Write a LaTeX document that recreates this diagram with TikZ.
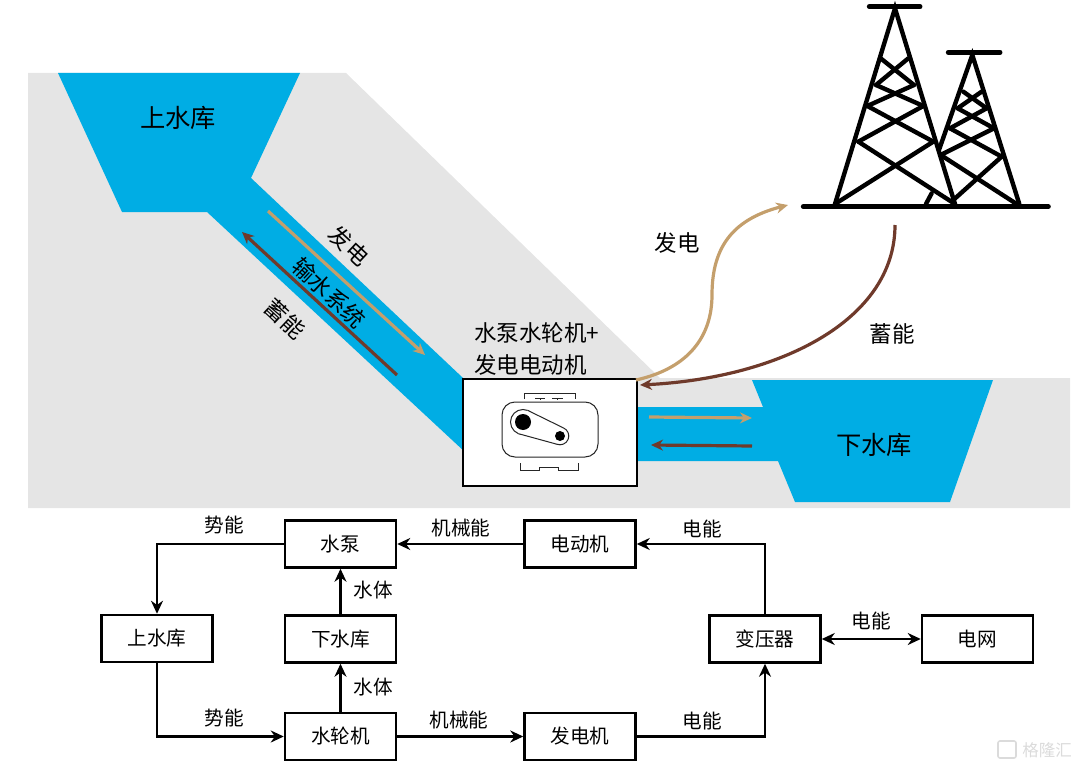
\documentclass[tikz,border=0pt]{standalone}
\usepackage{fontspec}
\setmainfont{Noto Sans CJK SC}
\usetikzlibrary{arrows.meta,positioning,calc}
\definecolor{waterblue}{HTML}{00ADE4}
\definecolor{hillgray}{HTML}{E5E5E5}
\definecolor{gentan}{HTML}{C49F6C}
\definecolor{storebrown}{HTML}{6F3A2B}
\tikzset{
    >={Stealth[]},
    flowbox/.style={draw,line width=2.5pt,minimum width=111pt,minimum height=47pt,inner sep=0pt,font=\fontsize{19.6}{20}\selectfont},
    flowline/.style={draw,line width=2.5pt,-{Stealth[length=13pt,width=12pt]}},
    flowlabel/.style={inner sep=0pt,font=\fontsize{19.6}{20}\selectfont},
    biglabel/.style={inner sep=0pt,font=\fontsize{22.5}{23}\selectfont},
    resname/.style={inner sep=0pt,font=\fontsize{25.3}{26}\selectfont},
    genline/.style={draw=gentan,line width=3.2pt,-{Stealth[length=12pt,width=11pt]}},
    storeline/.style={draw=storebrown,line width=3.2pt,-{Stealth[length=12pt,width=11pt]}},
    towerline/.style={line width=4.4pt,line cap=round},
    towerbar/.style={line width=5pt,line cap=round},
    iconline/.style={line width=1pt,black!85}
}

\begin{document}
\begin{tikzpicture}[x=1pt,y=-1pt]
    \useasboundingbox (0,0) rectangle (1080,768);

    % hill and water
    \fill[hillgray] (28,73) -- (346,73) -- (660,378) -- (1070,378) -- (1070,508) -- (28,508) -- cycle;
    \fill[waterblue] (58,73) -- (300,73) -- (251,178) -- (480,394) -- (480,466) -- (207,212) -- (122,212) -- cycle;
    \fill[waterblue] (620,407) -- (763,407) -- (752,380) -- (993,380) -- (950,502) -- (795,502) -- (778,461) -- (620,461) -- cycle;

    % machine
    \node[draw,fill=white,line width=2.8pt,minimum width=174pt,minimum height=107pt,inner sep=0pt] (unit) at (550,432.5) {};
    \draw[iconline,rounded corners=13pt] (502,402) rectangle (598,457);
    \draw[iconline] (524,399) -- (524,393) -- (575,393) -- (575,399);
    \draw[iconline] (535,398) -- (545,398) (540,398) -- (540,400) (552,398) -- (563,398) (557,398) -- (557,400);
    \draw[iconline] (520,463) -- (520,470) -- (539,470) -- (539,467) -- (558,467) -- (558,470) -- (578,470) -- (578,463);
    \draw[iconline] (523,422) circle (12.5);
    \draw[iconline] (560,436) circle (8.8);
    \fill[white] (527.5,410.3) -- (563.2,427.8) -- (556.8,444.2) -- (518.5,433.7) -- cycle;
    \draw[iconline] (527.5,410.3) -- (563.2,427.8) (556.8,444.2) -- (518.5,433.7);
    \fill[black] (523,422) circle (8);
    \fill[black] (560,436) circle (5);

    % tall tower
    \begin{scope}[shift={(790,0)},scale=0.3333]
        \draw[towerbar] (40,620) -- (775,620);
        \draw[towerbar] (238,20) -- (390,20);
        \draw[towerline] (135,612) -- (315,25) -- (495,612);
        \foreach \xa/\ya/\xb/\yb in {272/175/372/255,355/175/258/255,258/255/400/318,372/255/232/318,232/318/430/425,400/318/205/425,205/425/495/612,430/425/135/612}
            \draw[towerline] (\xa,\ya) -- (\xb,\yb);
        % short tower
        \draw[towerbar] (475,157) -- (630,157);
        \draw[towerline] (447,450) -- (547,165) -- (688,612);
        \draw[towerline] (425,580) -- (408,612);
        \foreach \xa/\ya/\xb/\yb in {520/275/590/325,575/275/503/325,503/325/612/385,590/325/480/385,480/385/635/470,612/385/452/465,452/465/680/612,635/470/490/600}
            \draw[towerline] (\xa,\ya) -- (\xb,\yb);
    \end{scope}

    % power curves
    \coordinate (genstart) at (636,380);
    \coordinate (genend) at (788,205);
    \coordinate (storestart) at (895,225);
    \coordinate (storeend) at (640,385);
    \draw[genline] (genstart) .. controls (690,368) and (712,335) .. (712,295) .. controls (712,250) and (730,220) .. (genend);
    \draw[storeline] (storestart) .. controls (895,320) and (780,378) .. (storeend);

    % flow arrows on the water
    \coordinate (pipetanA) at (268,211);
    \coordinate (pipetanB) at (425,355);
    \coordinate (pipebrownA) at (397,375);
    \coordinate (pipebrownB) at (242,232);
    \coordinate (tailtanA) at (649,417);
    \coordinate (tailtanB) at (752,418);
    \coordinate (tailbrownA) at (752,446);
    \coordinate (tailbrownB) at (651,445);
    \draw[genline] (pipetanA) -- (pipetanB);
    \draw[storeline] (pipebrownA) -- (pipebrownB);
    \draw[genline] (tailtanA) -- (tailtanB);
    \draw[storeline] (tailbrownA) -- (tailbrownB);

    % labels of the scheme
    \node[resname] (upname) at (178,118) {上水库};
    \node[resname] (lowname) at (874,445) {下水库};
    \node[biglabel,rotate=-43] (pipegen) at (349,246) {发电};
    \node[biglabel,rotate=-43] (pipename) at (329,293) {输水系统};
    \node[biglabel,rotate=-43] (pipestore) at (285,319) {蓄能};
    \node[biglabel] (gentext) at (677,243) {发电};
    \node[biglabel] (storetext) at (892,334) {蓄能};
    \node[biglabel,anchor=west] (unitname) at (474,333) {水泵水轮机+};
    \node[biglabel,anchor=west] (unitnameb) at (474,365) {发电电动机};

    % flow chart
    \node[flowbox] (pump) at (340.5,544) {水泵};
    \node[flowbox] (motor) at (580,544) {电动机};
    \node[flowbox] (upres) at (157,638.5) {上水库};
    \node[flowbox] (lowres) at (340.5,639) {下水库};
    \node[flowbox] (trafo) at (765,639) {变压器};
    \node[flowbox] (grid) at (977.5,639) {电网};
    \node[flowbox] (turbine) at (340.5,736.5) {水轮机};
    \node[flowbox] (generator) at (580,736.5) {发电机};

    \draw[flowline] (pump.west) -| (upres.north);
    \draw[flowline] (upres.south) |- (turbine.west);
    \draw[flowline] (turbine.north) -- (lowres.south);
    \draw[flowline] (lowres.north) -- (pump.south);
    \draw[flowline] (turbine.east) -- (generator.west);
    \draw[flowline] (generator.east) -| (trafo.south);
    \draw[flowline] (trafo.north) |- (motor.east);
    \draw[flowline] (motor.west) -- (pump.east);
    \draw[flowline,{Stealth[length=13pt,width=12pt]}-{Stealth[length=13pt,width=12pt]}] (trafo.east) -- (grid.west);

    \node[flowlabel] (potupper) at (224,525) {势能};
    \node[flowlabel] (potlower) at (224,718) {势能};
    \node[flowlabel] (waterupper) at (373,590) {水体};
    \node[flowlabel] (waterlower) at (373,687) {水体};
    \node[flowlabel] (mechupper) at (461,528) {机械能};
    \node[flowlabel] (mechlower) at (459,720) {机械能};
    \node[flowlabel] (elecupper) at (702,529) {电能};
    \node[flowlabel] (eleclower) at (702,721) {电能};
    \node[flowlabel] (elecgrid) at (871,621) {电能};

    % watermark
    \node[inner sep=0pt,text=black!14,font=\fontsize{16.5}{17}\selectfont] (mark) at (1047,750) {格隆汇};
    \draw[black!14,line width=1.6pt,rounded corners=2pt] (998,741) rectangle (1016,758);
\end{tikzpicture}
\end{document}
